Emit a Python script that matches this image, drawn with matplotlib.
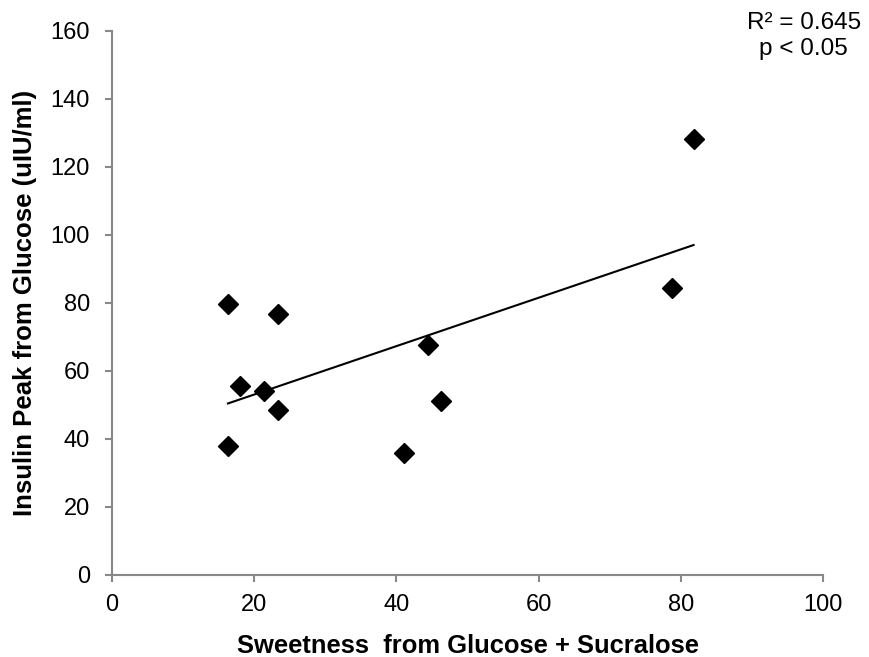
import numpy as np
import matplotlib.pyplot as plt

plt.rcParams['font.family'] = ['Liberation Sans', 'DejaVu Sans']

# sweetness rating vs insulin peak
sweetness = [16.3, 23.3, 44.5, 18.0, 21.3, 23.3, 46.2, 16.3, 41.0, 81.8, 78.8]
insulin = [79.8, 76.6, 67.5, 55.5, 54.0, 48.6, 51.0, 37.8, 35.9, 128.3, 84.3]

x_ticks = [0, 20, 40, 60, 80, 100]
y_ticks = [0, 20, 40, 60, 80, 100, 120, 140, 160]

x = np.array(sweetness)
y = np.array(insulin)
slope, intercept = np.polyfit(x, y, 1)
xfit = np.array([x.min(), x.max()])

fig = plt.figure(figsize=(8.69, 6.57), dpi=100)
ax = fig.add_axes([0.129, 0.125, 0.818, 0.828])

ax.plot(xfit, slope * xfit + intercept, color='black', lw=1.5, zorder=2)
ax.plot(x, y, 'D', color='black', markersize=10, zorder=3)

ax.set_xlim(0, 100)
ax.set_ylim(0, 160)
ax.set_xticks(x_ticks)
ax.set_yticks(y_ticks)
ax.tick_params(labelsize=17, color='#888888', length=5, width=1.5)
ax.tick_params(axis='y', pad=11)
ax.tick_params(axis='x', pad=9)

for side in ['top', 'right']:
    ax.spines[side].set_visible(False)
for side in ['left', 'bottom']:
    ax.spines[side].set_color('#888888')
    ax.spines[side].set_linewidth(1.5)

ax.set_xlabel('Sweetness  from Glucose + Sucralose', fontsize=18.4, fontweight='bold')
ax.set_ylabel('Insulin Peak from Glucose (uIU/ml)', fontsize=18.5, fontweight='bold')
ax.xaxis.set_label_coords(0.5, -0.108)
ax.yaxis.set_label_coords(-0.105, 0.5)

fig.text(0.925, 0.945, 'R² = 0.645\np < 0.05', ha='center', va='center', fontsize=17.5, linespacing=1.2)

plt.savefig('out.png', dpi=100)
